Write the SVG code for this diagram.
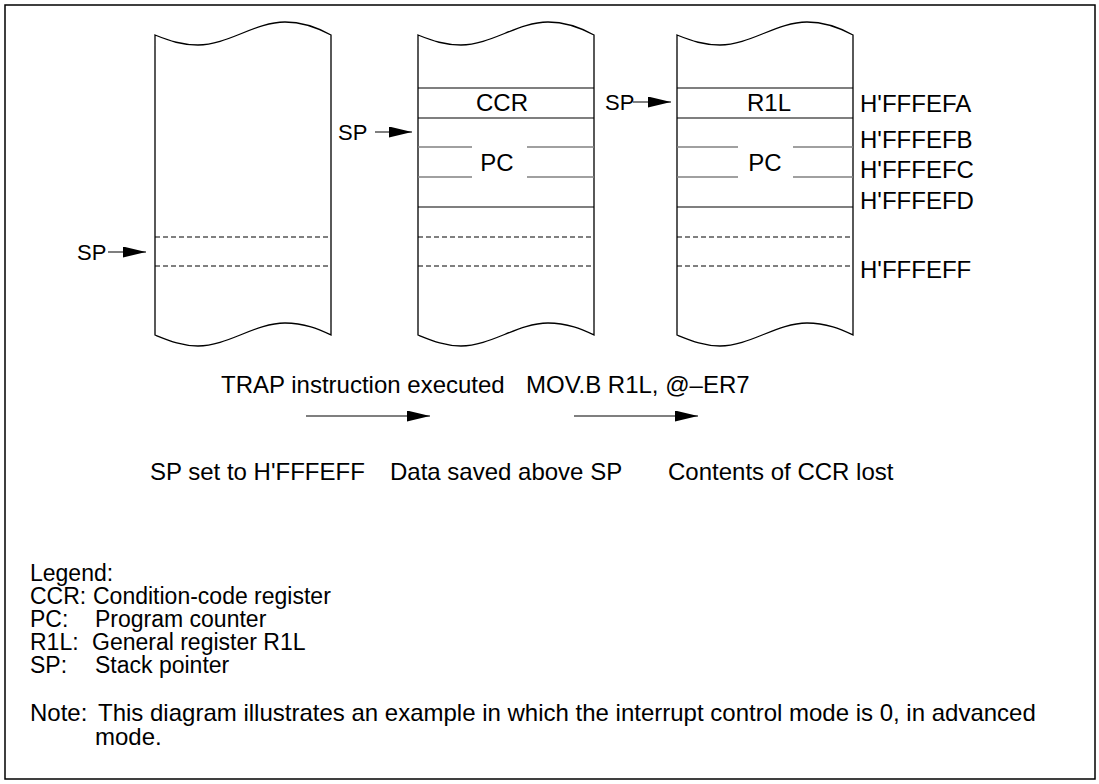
<svg xmlns="http://www.w3.org/2000/svg" width="1099" height="784" viewBox="0 0 1099 784">
<style>
text{font-family:"Liberation Sans",Arial,sans-serif;font-size:24px;fill:#000}
.sp{font-size:22px}
.lg{font-size:23px}
.stk{fill:#fff;stroke:#000;stroke-width:1.3}
.sl{stroke:#000;stroke-width:1.2;fill:none}
.gl{stroke:#808080;stroke-width:1.4;fill:none}
.dl{stroke:#000;stroke-width:1;stroke-dasharray:5 3;fill:none}
.ar{stroke:#000;stroke-width:1.2;fill:none}
.mid{text-anchor:middle}
</style>
<defs>
<path id="stack" d="M0,35 C15,41 27,45 43,45 C73,45 100,22 130,22 C150,22 165,29 176,35 L176,335 C165,330 150,323 130,323 C100,323 73,346 43,346 C27,346 15,341 0,335 Z"/>
<marker id="ah" markerWidth="24" markerHeight="12" refX="23" refY="5.5" orient="auto" markerUnits="userSpaceOnUse"><path d="M0,0 L23,5.5 L0,11 Z" fill="#000"/></marker>
</defs>
<rect x="5" y="5" width="1090" height="774" fill="#fff" stroke="#000" stroke-width="1.5"/>
<g id="stack1">
<use href="#stack" x="155" class="stk"/>
<line x1="155" y1="237" x2="331" y2="237" class="dl"/>
<line x1="155" y1="266" x2="331" y2="266" class="dl"/>
</g>
<g id="stack2">
<use href="#stack" x="418" class="stk"/>
<line x1="418" y1="88" x2="594" y2="88" class="sl"/>
<line x1="418" y1="118" x2="594" y2="118" class="sl"/>
<line x1="418" y1="147" x2="472" y2="147" class="gl"/>
<line x1="527" y1="147" x2="594" y2="147" class="gl"/>
<line x1="418" y1="177" x2="472" y2="177" class="gl"/>
<line x1="527" y1="177" x2="594" y2="177" class="gl"/>
<line x1="418" y1="207" x2="594" y2="207" class="sl"/>
<line x1="418" y1="237" x2="594" y2="237" class="dl"/>
<line x1="418" y1="266" x2="594" y2="266" class="dl"/>
<text x="502" y="111" class="mid">CCR</text>
<text x="497" y="171" class="mid">PC</text>
</g>
<g id="stack3">
<use href="#stack" x="677" class="stk"/>
<line x1="677" y1="88" x2="853" y2="88" class="sl"/>
<line x1="677" y1="118" x2="853" y2="118" class="sl"/>
<line x1="677" y1="147" x2="738" y2="147" class="gl"/>
<line x1="793" y1="147" x2="853" y2="147" class="gl"/>
<line x1="677" y1="177" x2="738" y2="177" class="gl"/>
<line x1="793" y1="177" x2="853" y2="177" class="gl"/>
<line x1="677" y1="207" x2="853" y2="207" class="sl"/>
<line x1="677" y1="237" x2="853" y2="237" class="dl"/>
<line x1="677" y1="266" x2="853" y2="266" class="dl"/>
<text x="769" y="111" class="mid">R1L</text>
<text x="765" y="171" class="mid">PC</text>
</g>
<g id="addresses">
<text x="860" y="112">H'FFFEFA</text>
<text x="860" y="148">H'FFFEFB</text>
<text x="860" y="178">H'FFFEFC</text>
<text x="860" y="209">H'FFFEFD</text>
<text x="860" y="278">H'FFFEFF</text>
</g>
<g id="sp-labels">
<text x="77" y="260" class="sp">SP</text>
<text x="338" y="140" class="sp">SP</text>
<text x="605" y="110" class="sp">SP</text>
</g>
<g id="connectors">
<line x1="108" y1="252" x2="146" y2="252" class="ar" marker-end="url(#ah)"/>
<line x1="375" y1="132" x2="412" y2="132" class="ar" marker-end="url(#ah)"/>
<line x1="633" y1="102" x2="671" y2="102" class="ar" marker-end="url(#ah)"/>
<line x1="306" y1="416" x2="430" y2="416" class="ar" marker-end="url(#ah)"/>
<line x1="574" y1="416" x2="698" y2="416" class="ar" marker-end="url(#ah)"/>
</g>
<g id="captions">
<text x="221" y="393">TRAP instruction executed</text>
<text x="526" y="393">MOV.B R1L, @–ER7</text>
<text x="150" y="480">SP set to H'FFFEFF</text>
<text x="390" y="480">Data saved above SP</text>
<text x="668" y="480">Contents of CCR lost</text>
</g>
<g id="legend" class="lg">
<text x="30" y="581" class="lg">Legend:</text>
<text y="604" class="lg"><tspan x="30">CCR:</tspan><tspan x="93">Condition-code register</tspan></text>
<text y="627" class="lg"><tspan x="30">PC:</tspan><tspan x="95">Program counter</tspan></text>
<text y="650" class="lg"><tspan x="30">R1L:</tspan><tspan x="92">General register R1L</tspan></text>
<text y="673" class="lg"><tspan x="30">SP:</tspan><tspan x="95">Stack pointer</tspan></text>
<text y="721"><tspan x="30">Note:</tspan><tspan x="98">This diagram illustrates an example in which the interrupt control mode is 0, in advanced</tspan></text>
<text x="95" y="745">mode.</text>
</g>
</svg>
